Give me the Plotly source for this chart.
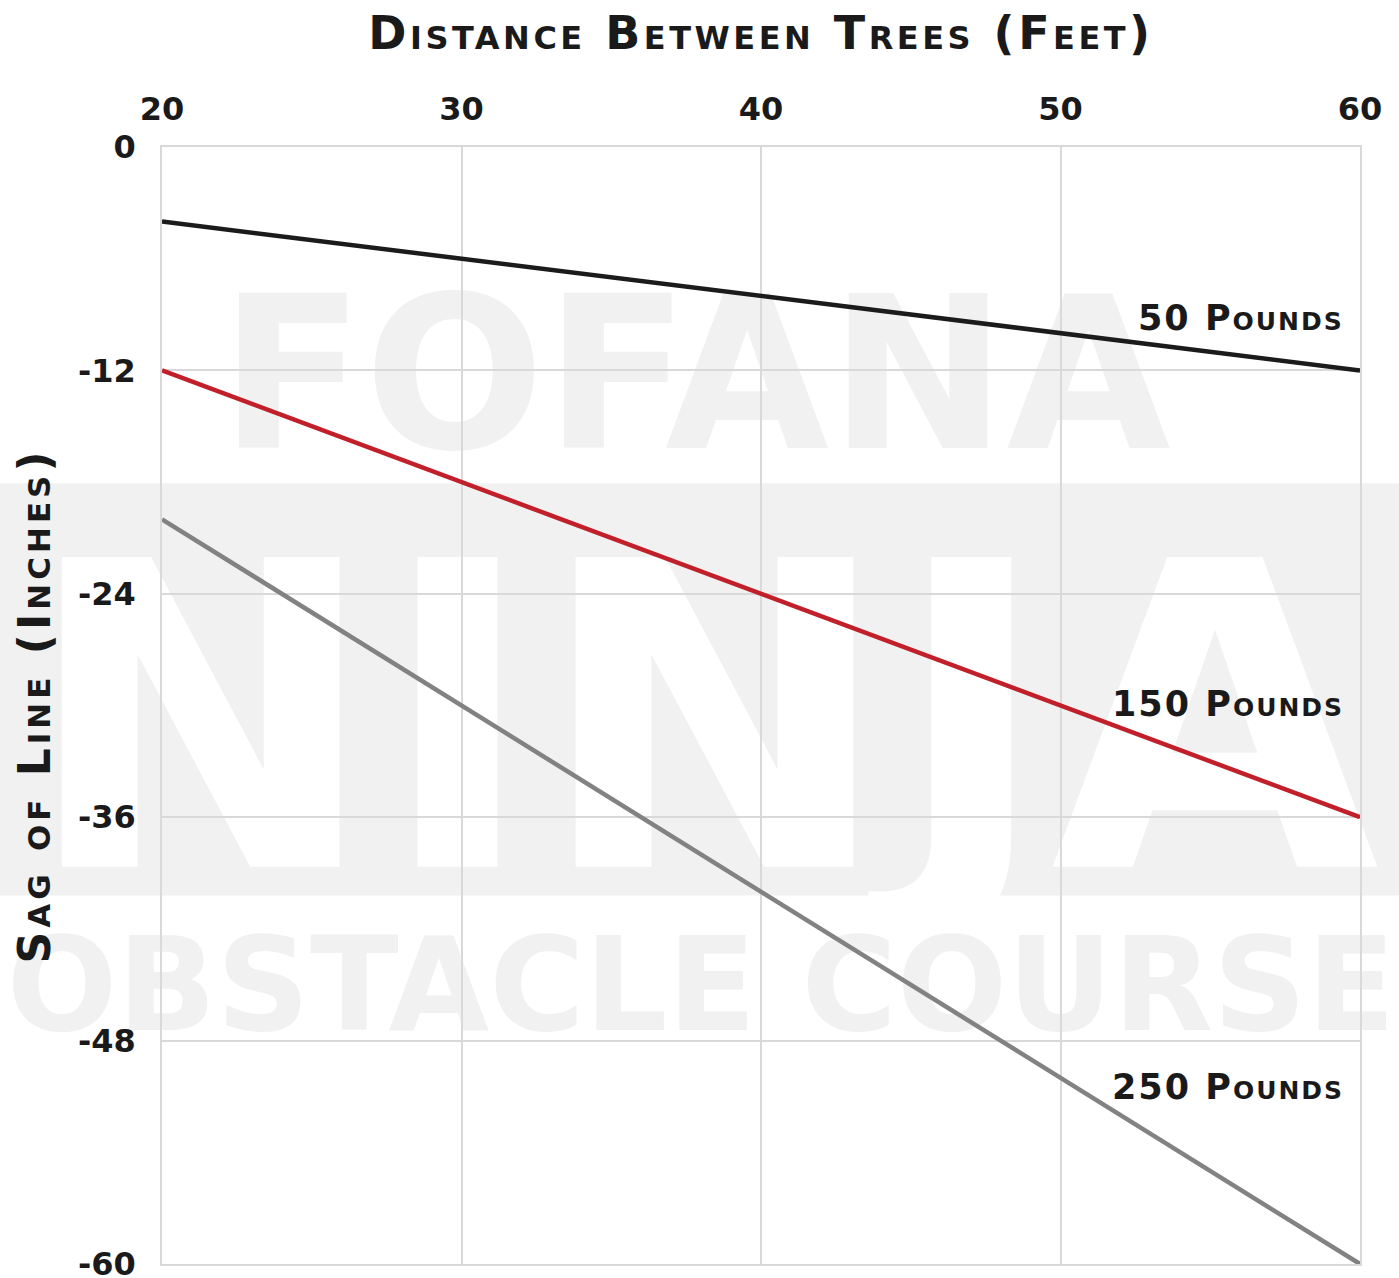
import plotly.graph_objects as go

# ---- data ----
distance_ft = [20, 30, 40, 50, 60]
sag_50lb = [-4, -6, -8, -10, -12]
sag_150lb = [-12, -18, -24, -30, -36]
sag_250lb = [-20, -30, -40, -50, -60]
series_names = ["50 Pounds", "150 Pounds", "250 Pounds"]
x_ticks = [20, 30, 40, 50, 60]
y_ticks = [0, -12, -24, -36, -48, -60]

# ---- style ----
colors = ["#1b1b1b", "#c1202b", "#828282"]
label_y = [-9.2, -29.9, -50.5]
FONT = "DejaVu Sans"
GRID = "#d9d9d9"
WM = "#f1f1f1"
INK = "#1a1a1a"


def spaced(text, px):
    return f'<span style="letter-spacing:{px}px">{text}</span>'


fig = go.Figure()
for name, ys, c in zip(series_names, [sag_50lb, sag_150lb, sag_250lb], colors):
    fig.add_trace(go.Scatter(x=distance_ft, y=ys, mode="lines", name=name,
                             line=dict(color=c, width=4.5), cliponaxis=False))

# ---- watermark (below gridlines) ----
shapes = [
    dict(type="rect", xref="paper", yref="paper", x0=-0.14, x1=1.04, y0=0.330, y1=0.699,
         fillcolor=WM, line=dict(width=0), layer="below"),
]
wm_words = [
    ("FOFANA", 0.01, 0.88, 0.74, 0.88, 212, WM),
    ("NINJA", -0.14, 1.04, 0.33, 0.70, 425, "#ffffff"),
    ("OBSTACLE COURSE", -0.14, 1.04, 0.203, 0.313, 130, WM),
]
for txt, x0, x1, y0, y1, sz, col in wm_words:
    shapes.append(dict(type="rect", xref="paper", yref="paper", x0=x0, x1=x1, y0=y0, y1=y1,
                       line=dict(width=0), fillcolor="rgba(0,0,0,0)", layer="below",
                       label=dict(text=txt, textposition="middle center",
                                  font=dict(family=FONT, size=sz, color=col, weight="bold"))))

annotations = []
for name, y in zip(series_names, label_y):
    annotations.append(dict(x=60, y=y, xref="x", yref="y", text=spaced(name, 2), showarrow=False,
                            xanchor="right", yanchor="middle", xshift=-14,
                            font=dict(family=FONT, size=35, color=INK, weight="bold",
                                      variant="small-caps")))

fig.update_layout(
    width=1399, height=1278,
    margin=dict(l=162, r=39, t=147, b=14, autoexpand=False),
    paper_bgcolor="white", plot_bgcolor="rgba(0,0,0,0)",
    showlegend=False,
    shapes=shapes,
    annotations=annotations,
    xaxis=dict(side="top", range=[20, 60], tickvals=x_ticks, ticktext=[str(v) for v in x_ticks],
               showgrid=True, gridcolor=GRID, gridwidth=1.5, zeroline=False,
               showline=True, mirror=True, linecolor=GRID, linewidth=1.5,
               ticks="", ticklabelstandoff=12, automargin=False, ticklabeloverflow="allow",
               tickfont=dict(family=FONT, size=32, color=INK, weight="bold"),
               title=dict(text=spaced("Distance Between Trees (Feet)", 3.5), standoff=26,
                          font=dict(family=FONT, size=46, color=INK, weight="bold",
                                    variant="small-caps"))),
    yaxis=dict(range=[-60, 0], tickvals=y_ticks, ticktext=[str(v) for v in y_ticks],
               showgrid=True, gridcolor=GRID, gridwidth=1.5, zeroline=False,
               showline=True, mirror=True, linecolor=GRID, linewidth=1.5,
               ticks="", ticklabelstandoff=18, automargin=False, ticklabeloverflow="allow",
               tickfont=dict(family=FONT, size=32, color=INK, weight="bold"),
               title=dict(text=spaced("Sag of Line (Inches)", 4), standoff=14,
                          font=dict(family=FONT, size=44, color=INK, weight="bold",
                                    variant="small-caps"))),
)

fig.write_html("out.html", config={"displayModeBar": False},
               post_script="document.body.style.margin='0';")
